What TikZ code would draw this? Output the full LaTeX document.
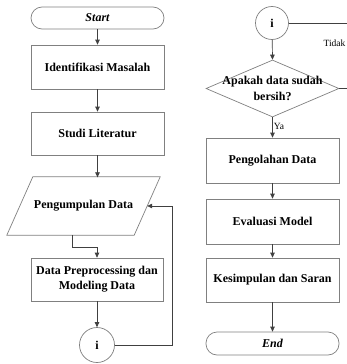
\documentclass[tikz,border=0pt]{standalone}
\usepackage{fontspec}
\setmainfont{Liberation Serif}
\usetikzlibrary{arrows.meta,shapes.geometric,calc}
\begin{document}
\begin{tikzpicture}[x=1pt,y=-1pt,
  boxcol/.style={draw=black!50, line width=0.7pt},
  stepbox/.style={boxcol, rectangle, minimum width=133pt, inner sep=0pt, align=center,
     font=\fontsize{12}{15}\selectfont\bfseries},
  term/.style={boxcol, rectangle, rounded corners=11pt, minimum width=133pt, minimum height=22pt,
     inner sep=0pt, font=\fontsize{12}{15}\selectfont\bfseries\itshape},
  conn/.style={boxcol, circle, minimum size=35pt, inner sep=0pt, font=\fontsize{12}{15}\selectfont\bfseries},
  arr/.style={draw=black!75, line width=0.7pt, -{Triangle[length=5pt,width=4.5pt]}},
  ln/.style={draw=black!75, line width=0.7pt},
  small/.style={font=\fontsize{9.5}{11}\selectfont, inner sep=0pt}
]
\useasboundingbox[fill=white] (0,0) rectangle (347,364);

% left column
\node[term] (start) at (97.5,18) {Start};
\node[stepbox, minimum height=44pt] (ident) at (97.5,67) {Identifikasi Masalah};
\node[stepbox, minimum height=43pt] (studi) at (97.5,133.5) {Studi Literatur};
\node[rectangle, minimum width=127pt, minimum height=58pt, inner sep=0pt,
      font=\fontsize{12}{15}\selectfont\bfseries] (pd) at (83.5,206) {Pengumpulan Data};
\draw[boxcol] ($(pd.north west)+(13,0)$) -- ($(pd.north east)+(13,0)$)
   -- ($(pd.south east)+(-13,0)$) -- ($(pd.south west)+(-13,0)$) -- cycle;
\node[stepbox, minimum width=132pt, minimum height=43pt] (dp) at (97,279.5) {Data Preprocessing dan\\Modeling Data};
\node[conn] (c1) at (97,345) {i};

\draw[arr] (start) -- (ident);
\draw[arr] (ident) -- (studi);
\draw[arr] (studi.south) -- ($(studi.south)+(0,22)$);
\draw[arr] ([xshift=-11.5pt]pd.south) -- ++(0,12) -| (dp.north);
\draw[arr] (dp) -- (c1);
\coordinate (ret) at (172,345);
\draw[arr] (c1.east) -- (ret) |- (pd.east);

% right column
\node[conn, minimum size=33pt] (c2) at (272,23) {i};
\coordinate (c2out) at (347,23);
\draw[ln] (c2.east) -- (c2out);
\node[small] (tidak) at (334.5,43) {Tidak};
\node[boxcol, diamond, minimum width=133pt, minimum height=57pt, inner sep=0pt] (dec) at (272.5,88.5) {};
\node[align=center, inner sep=0pt, font=\fontsize{12}{16.5}\selectfont\bfseries] (dect) at (272.5,88.5) {Apakah data sudah\\bersih?};
\coordinate (decout) at (347,88.5);
\draw[ln] (dec.east) -- (decout);
\node[stepbox, minimum height=45pt] (pen) at (272.5,160.5) {Pengolahan Data};
\node[stepbox, minimum height=45pt] (eval) at (272.5,221.5) {Evaluasi Model};
\node[stepbox, minimum height=44pt] (kes) at (272.5,280) {Kesimpulan dan Saran};
\node[term, minimum height=23pt] (end) at (272.5,343.5) {End};

\draw[arr] (c2) -- (dec.north);
\draw[arr] (dec.south) -- node[small, anchor=west, pos=0.45, xshift=1pt] (ya) {Ya} (pen.north);
\draw[arr] (pen) -- (eval);
\draw[arr] (eval) -- (kes);
\draw[arr] (kes) -- (end);
\end{tikzpicture}
\end{document}
